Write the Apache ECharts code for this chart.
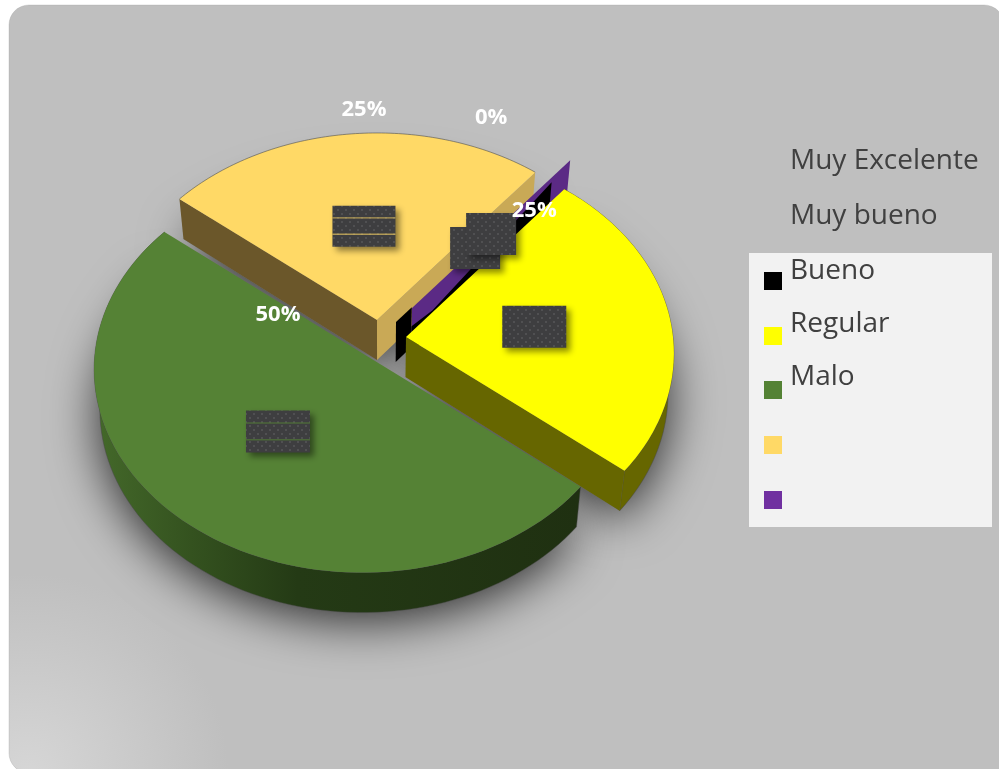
<!DOCTYPE html>
<html>
<head>
<meta charset="utf-8">
<style>html,body{margin:0;padding:0;background:#fff}#c{width:999px;height:769px}</style>
<script src="https://cdn.jsdelivr.net/npm/echarts@6/dist/echarts.min.js"></script>
</head>
<body>
<div id="c"></div>
<script>
// Survey results: share of answers per rating
const categories = ['Bueno', 'Regular', 'Malo', '', ''];
const percents = [0, 25, 50, 25, 0];
const swatchlessNames = ['Muy Excelente', 'Muy bueno'];
const labelled = [false, true, true, true, true];

// Colours per slice
const faceColors = ['#000000', '#ffff00', '#558235', '#ffd966', '#7030a0'];
const legendColors = ['#000000', '#ffff00', '#548235', '#ffd966', '#7030a0'];

// Exploded position of each slice's tip, and its stacking order
const tips = [[396, 322], [406, 337], [362, 353], [377, 320], [412, 308]];
const stack = [20, 30, 40, 10, 22];
const boxSizes = [[50, 42], [64, 42], [64, 42], [63, 41], [50, 42]];
const boxStripes = [false, false, true, true, false];

// Tilted disc projection
const RX = 267, RY = 202, PERSPECTIVE = 0.08, DEPTH = 40, DEPTH_SCALE = 0.98, VANISH_X = 380;
const START_ANGLE = -51;
const LABEL_RADIUS = 0.485;
const LABEL_LIFT = 116.5;

function onDisc(tip, deg, r) {
  const a = deg * Math.PI / 180, X = r * Math.cos(a), Y = r * Math.sin(a);
  const w = 1 - PERSPECTIVE * Y;
  return [tip[0] + RX * X / w, tip[1] + RY * Y / w];
}
function lowered(p, d) {
  const h = d === undefined ? DEPTH : d;
  const f = 1 - (1 - DEPTH_SCALE) * h / DEPTH;
  return [VANISH_X + (p[0] - VANISH_X) * f, p[1] + h];
}
function arc(tip, a0, a1) {
  const pts = [], n = 90;
  for (let i = 0; i <= n; i++) pts.push(onDisc(tip, a0 + (a1 - a0) * i / n, 1));
  return pts;
}
function poly(points, style, z2) {
  return { type: 'polygon', shape: { points }, style, z2, silent: true };
}
function wall(a, b, fill, z2) {
  return poly([a, b, lowered(b), lowered(a)], { fill }, z2);
}

// Dotted tile for the label plates
const tile = document.createElement('canvas');
tile.width = tile.height = 8;
(function () {
  const g = tile.getContext('2d');
  g.fillStyle = '#3e3e40';
  g.fillRect(0, 0, 8, 8);
  g.fillStyle = '#505052';
  g.fillRect(1, 1, 2, 2);
  g.fillRect(5, 5, 2, 2);
})();

const greenRim = {
  type: 'linear', global: true, x: 94, y: 0, x2: 579, y2: 0,
  colorStops: [
    { offset: 0, color: '#44692a' }, { offset: 0.2, color: '#34521f' },
    { offset: 0.42, color: '#243a15' }, { offset: 1, color: '#1f3011' }
  ]
};

const total = percents.reduce((s, v) => s + v, 0);
const spans = [];
percents.reduce((from, v) => {
  const to = from + v / total * 360;
  spans.push([from, to]);
  return to;
}, START_ANGLE);

function renderSlice(params, api) {
  const i = params.dataIndex;
  const value = api.value(0);
  const tip = tips[i], span = spans[i], z = stack[i];
  const kids = [];

  if (value > 0) {
    const edge = arc(tip, span[0], span[1]);
    const face = [tip].concat(edge);
    kids.push(poly(face.map(p => lowered(p)), {
      fill: '#777', shadowBlur: 50, shadowColor: 'rgba(0,0,0,0.8)', shadowOffsetY: 8
    }, 1));
    if (i === 1 || i === 2) {
      const rim = edge.concat(edge.slice().reverse().map(p => lowered(p)));
      kids.push(poly(rim, {
        fill: i === 1 ? '#666600' : greenRim, stroke: 'rgba(70,70,70,0.55)', lineWidth: 0.8
      }, z));
    }
    if (i === 1) kids.push(wall(tip, edge[edge.length - 1], '#666600', z + 1));
    if (i === 3) {
      kids.push(wall(edge[0], tip, '#6b572a', z + 1));
      kids.push(wall(tip, edge[edge.length - 1], '#c9a956', z + 1));
    }
    kids.push(poly(face, { fill: faceColors[i] }, z + 2));
    if (i === 3) {
      kids.push({ type: 'polyline', shape: { points: edge }, silent: true, z2: z + 3,
        style: { fill: null, stroke: 'rgba(70,70,70,0.7)', lineWidth: 0.8 } });
    }
  } else {
    const rimPt = onDisc(tip, span[0], 1);
    const at = (t, d) => lowered([tip[0] + (rimPt[0] - tip[0]) * t, tip[1] + (rimPt[1] - tip[1]) * t], d);
    if (i === 4) {
      kids.push(wall(tip, rimPt, '#5b2a85', z));
    } else {
      // Black wall: its near end shows past the purple one, the rest slips under it
      kids.push(poly([at(0, 0), at(0.1, 0), at(0.1, 40), at(0, 40)], { fill: faceColors[i] }, z));
      kids.push(poly([at(0.1, 19), at(0.233, 23), at(0.987, 6), at(0.987, 40), at(0.1, 46)],
        { fill: faceColors[i] }, z + 4));
    }
  }

  // Label plate partway along the slice's middle direction
  const mid = onDisc(tip, (span[0] + span[1]) / 2, LABEL_RADIUS);
  const size = boxSizes[i];
  const bx = mid[0] - size[0] / 2, by = mid[1] - size[1] / 2;
  kids.push({ type: 'rect', shape: { x: bx, y: by, width: size[0], height: size[1] }, silent: true, z2: 50 + (i === 4 ? 5 : i),
    style: { fill: { image: tile, repeat: 'repeat' }, shadowBlur: 6, shadowOffsetX: 4, shadowOffsetY: 4, shadowColor: 'rgba(0,0,0,0.45)' } });
  if (boxStripes[i]) {
    [0.28, 0.68].forEach(f => kids.push({
      type: 'rect', shape: { x: bx, y: by + size[1] * f, width: size[0], height: 1.4 }, silent: true, z2: 58,
      style: { fill: faceColors[i], opacity: 0.6 }
    }));
  }
  if (labelled[i]) {
    kids.push({ type: 'text', silent: true, z2: 70,
      style: { text: value + '%', x: mid[0], y: mid[1] - LABEL_LIFT, align: 'center', verticalAlign: 'middle',
        fill: '#ffffff', font: '700 22px "Open Sans"' } });
  }
  return { type: 'group', children: kids };
}

// Legend: plain names first, then the swatched panel
const legendGraphics = [];
legendGraphics.push({ type: 'rect', z: -1, shape: { x: 749, y: 253, width: 243, height: 274 }, style: { fill: '#f2f2f2' } });
const swatchTops = [272, 327, 381, 436, 491];
const textMiddles = [271, 324, 377];
swatchlessNames.forEach((n, k) => legendGraphics.push({
  type: 'text', z: 5, style: { text: n, x: 790, y: 161 + 55 * k, verticalAlign: 'middle', fill: '#404040', font: '28px "Open Sans"' }
}));
categories.forEach((n, k) => {
  legendGraphics.push({ type: 'rect', z: 5, shape: { x: 764, y: swatchTops[k], width: 18, height: 18 }, style: { fill: legendColors[k] } });
  if (n) legendGraphics.push({
    type: 'text', z: 5, style: { text: n, x: 790, y: textMiddles[k], verticalAlign: 'middle', fill: '#404040', font: '28px "Open Sans"' }
  });
});

const chart = echarts.init(document.getElementById('c'), null, { renderer: 'canvas' });
chart.setOption({
  animation: false,
  backgroundColor: '#ffffff',
  graphic: [
    { type: 'rect', z: -5, shape: { x: 9, y: 5, width: 995, height: 768, r: [20, 20, 0, 20] },
      style: {
        stroke: 'rgba(160,160,160,0.3)', lineWidth: 1,
        fill: { type: 'radial', x: 0.02, y: 1.0, r: 0.26, colorStops: [{ offset: 0, color: '#d6d6d6' }, { offset: 1, color: '#bfbfbf' }] }
      } }
  ].concat(legendGraphics),
  series: [{
    type: 'custom',
    coordinateSystem: 'none',
    silent: true,
    z: 2,
    data: percents.map((v, i) => ({ name: categories[i], value: [v] })),
    renderItem: renderSlice
  }]
});
</script>
</body>
</html>
